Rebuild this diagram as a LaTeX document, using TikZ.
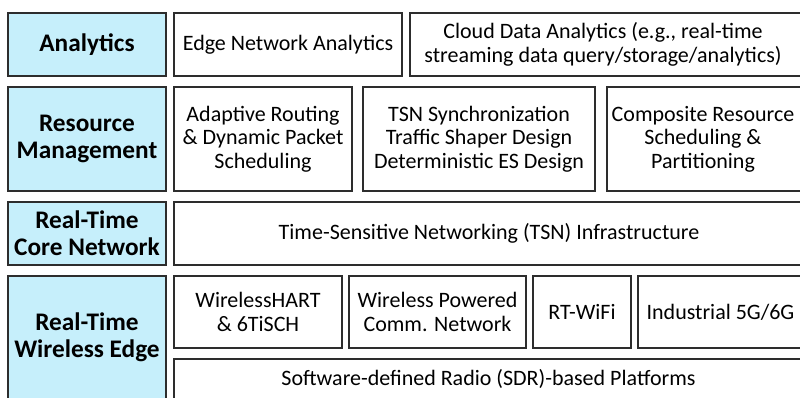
\documentclass[tikz,border=0pt]{standalone}
\usepackage{fontspec}
\setmainfont{Carlito}
\definecolor{labfill}{RGB}{198,239,251}
\definecolor{edgecol}{RGB}{45,45,45}
\begin{document}
\begin{tikzpicture}[x=1pt,y=-1pt,
  box/.style={draw=edgecol, line width=1.3pt, fill=white, inner sep=0pt, outer sep=0pt, anchor=north west, align=center, font=\fontsize{22}{23.5}\selectfont},
  labbox/.style={box, fill=labfill, font=\fontsize{25.3}{27}\selectfont\bfseries},
  txt/.style={inner sep=0pt, align=center, font=\fontsize{22}{23.5}\selectfont}]
\useasboundingbox (0,0) rectangle (800,397);
\clip (0,0) rectangle (800,397);
% row 1
\node[labbox, minimum width=158pt, minimum height=63pt] (an) at (8,13) {Analytics};
\node[box, minimum width=228pt, minimum height=63pt] (ena) at (174,13) {Edge Network Analytics};
\node[box, minimum width=400pt, minimum height=63pt] (cda) at (410,13) {};
\node[txt] (cdat) at (603,44.5) {Cloud Data Analytics (e.g., real-time\\streaming data query/storage/analytics)};
% row 2
\node[labbox, minimum width=158pt, minimum height=104pt] (rm) at (8,87) {Resource\\Management};
\node[box, minimum width=178pt, minimum height=104pt] (ar) at (174,87) {Adaptive Routing\\\& Dynamic Packet\\Scheduling};
\node[box, minimum width=232pt, minimum height=104pt] (tsn) at (363,87) {TSN Synchronization\\Traffic Shaper Design\\Deterministic ES Design};
\node[box, minimum width=200pt, minimum height=104pt] (crs) at (607,87) {};
\node[txt] (crst) at (703,139) {Composite Resource\\Scheduling \&\\Partitioning};
% row 3
\node[labbox, minimum width=158pt, minimum height=63pt] (cn) at (8,202) {Real-Time\\Core Network};
\node[box, minimum width=640pt, minimum height=63pt] (inf) at (174,202) {};
\node[txt] (inft) at (489,233.5) {Time-Sensitive Networking (TSN) Infrastructure};
% row 4
\node[labbox, minimum width=158pt, minimum height=123pt] (we) at (8,276) {Real-Time\\Wireless Edge};
\node[box, minimum width=168pt, minimum height=72pt] (wh) at (174,276) {WirelessHART\\\& 6TiSCH};
\node[box, minimum width=177pt, minimum height=72pt] (wp) at (349,276) {Wireless Powered\\Comm. Network};
\node[box, minimum width=98pt, minimum height=72pt] (rt) at (533,276) {RT-WiFi};
\node[box, minimum width=170pt, minimum height=72pt] (ind) at (638,276) {};
\node[txt] (indt) at (720.5,312) {Industrial 5G/6G};
\node[box, minimum width=640pt, minimum height=40pt] (sdr) at (174,359) {};
\node[txt] (sdrt) at (488.5,379) {Software-defined Radio (SDR)-based Platforms};
\end{tikzpicture}
\end{document}
